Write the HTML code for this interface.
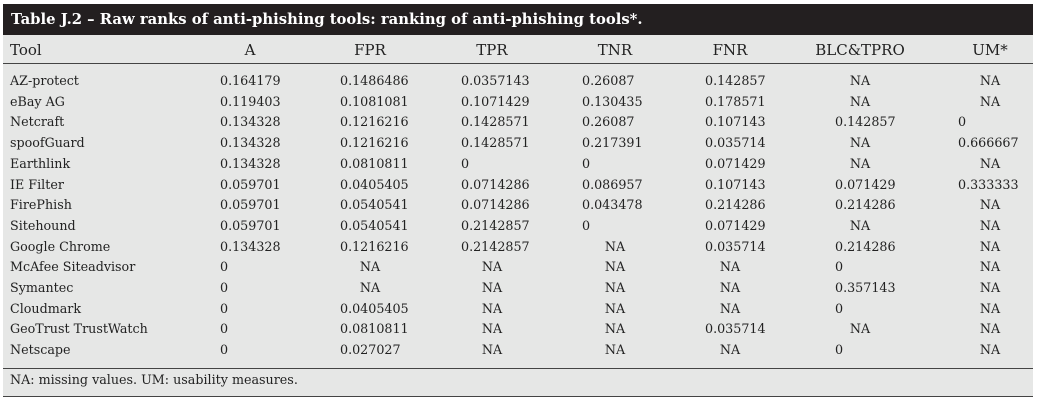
<!DOCTYPE html>
<html><head><meta charset="utf-8">
<style>
body{margin:0;background:#fff;}
#t{position:relative;width:1039px;height:403px;background:#fff;font-family:"DejaVu Serif","Liberation Serif",serif;font-size:12.7px;color:#222;}
#bg{position:absolute;left:3px;top:4px;width:1030px;height:393px;background:#e6e7e6;}
#title{position:absolute;left:3px;top:4px;width:1030px;height:31px;background:#231f20;color:#fff;font-weight:bold;font-size:14.8px;line-height:31px;padding-left:8px;box-sizing:border-box;}
.c{position:absolute;white-space:nowrap;line-height:18px;}
.hl{position:absolute;left:3px;width:1030px;height:1px;background:#444;}
</style></head><body>
<div id="t">
<div id="bg"></div>
<div id="title">Table J.2 – Raw ranks of anti-phishing tools: ranking of anti-phishing tools*.</div>
<div class="hl" style="top:63px"></div>
<div class="hl" style="top:368px"></div>
<div class="hl" style="top:396px"></div>
<div class="c" style="left:10px;top:371px;">NA: missing values. UM: usability measures.</div>
</div>
<script>
const headers=["Tool","A","FPR","TPR","TNR","FNR","BLC&TPRO","UM*"];
const tools=["AZ-protect","eBay AG","Netcraft","spoofGuard","Earthlink","IE Filter","FirePhish","Sitehound","Google Chrome","McAfee Siteadvisor","Symantec","Cloudmark","GeoTrust TrustWatch","Netscape"];
const rows=[
["0.164179","0.1486486","0.0357143","0.26087","0.142857","NA","NA"],
["0.119403","0.1081081","0.1071429","0.130435","0.178571","NA","NA"],
["0.134328","0.1216216","0.1428571","0.26087","0.107143","0.142857","0"],
["0.134328","0.1216216","0.1428571","0.217391","0.035714","NA","0.666667"],
["0.134328","0.0810811","0","0","0.071429","NA","NA"],
["0.059701","0.0405405","0.0714286","0.086957","0.107143","0.071429","0.333333"],
["0.059701","0.0540541","0.0714286","0.043478","0.214286","0.214286","NA"],
["0.059701","0.0540541","0.2142857","0","0.071429","NA","NA"],
["0.134328","0.1216216","0.2142857","NA","0.035714","0.214286","NA"],
["0","NA","NA","NA","NA","0","NA"],
["0","NA","NA","NA","NA","0.357143","NA"],
["0","0.0405405","NA","NA","NA","0","NA"],
["0","0.0810811","NA","NA","0.035714","NA","NA"],
["0","0.027027","NA","NA","NA","0","NA"]
];
const t=document.getElementById('t');
const lefts=[220,340,461,582,705,835,958];
const centers=[250,370,492,615,730,860,990];
function cell(txt,x,y,center,name){
 const d=document.createElement('div');
 d.className='c';d.textContent=txt;
 d.style.top=y+'px';
 if(center){d.style.left=(x-60)+'px';d.style.width='120px';d.style.textAlign='center';}
 else d.style.left=x+'px';
 
 
 t.appendChild(d);
}
headers.forEach((h,i)=>{
 const d=document.createElement('div');
 d.className='c';d.style.fontSize='15px';
 d.textContent=h;
 d.style.top='41px';
 if(i===0)d.style.left='10px';
 else{d.style.left=(centers[i-1]-60)+'px';d.style.width='120px';d.style.textAlign='center';}
 
 
 t.appendChild(d);
});
tools.forEach((tool,r)=>{
 const y=72+r*20.7;
 cell(tool,10,y,false,'tool-name');
 rows[r].forEach((v,c)=>{
  cell(v,v==='NA'?centers[c]:lefts[c],y,v==='NA','value-cell');
 });
});
</script>
</body></html>
